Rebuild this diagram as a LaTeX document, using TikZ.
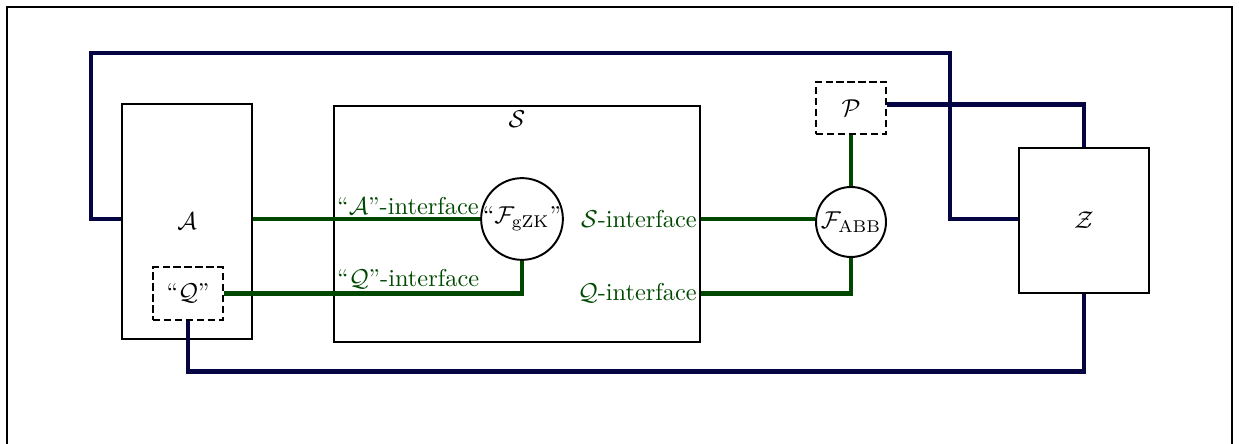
\documentclass[tikz,border=0pt]{standalone}
\usetikzlibrary{positioning}
\definecolor{ifgreen}{RGB}{0,72,0}
\definecolor{envnavy}{RGB}{5,5,68}

\begin{document}
\begin{tikzpicture}[
    x=0.41pt, y=-0.41pt,
    party/.style={draw, thick, minimum width=53.3pt},
    helper/.style={draw, thick, dash pattern=on 3pt off 1.5pt, minimum width=28.7pt, minimum height=21.5pt},
    func/.style={draw, thick, circle, inner sep=0pt},
    iface/.style={ifgreen, line width=1.8pt},
    envline/.style={envnavy, line width=1.8pt},
    ilabel/.style={text=ifgreen, inner sep=1.5pt}
  ]
    \useasboundingbox (0,0) rectangle (1239,444);
    \draw[line width=0.6pt] (7,7) rectangle (1232,470);

    % parties and simulator
    \node[party, minimum height=96.4pt] (A) at (187,221.5) {$\mathcal{A}$};
    \node[helper] (Q) at (188,293.5) {``$\mathcal{Q}$''};
    \node[draw, thick, minimum width=150pt, minimum height=96.8pt] (S) at (517,224) {};
    \node[anchor=north, inner sep=2pt] at (S.north) {$\mathcal{S}$};
    \node[party, minimum height=59.5pt] (Z) at (1084,220.5) {$\mathcal{Z}$};

    % functionalities
    \node[func, minimum size=31.5pt] (gzk) at (522,219) {``$\mathcal{F}_{\mathrm{gZK}}$''};
    \node[func, minimum size=28.7pt] (abb) at (851,222) {$\mathcal{F}_{\mathrm{ABB}}$};
    \node[helper] (P) at (851,108) {$\mathcal{P}$};

    % interfaces
    \draw[iface] (gzk.west -| A.east) -- (gzk.west);
    \node[ilabel, anchor=south west] at (gzk.west -| S.west) {``$\mathcal{A}$''-interface};
    \draw[iface] (Q.east) -- (Q.east -| gzk.south) -- (gzk.south);
    \node[ilabel, anchor=south west] at (Q.east -| S.west) {``$\mathcal{Q}$''-interface};
    \draw[iface] (gzk.west -| S.east) -- (gzk.west -| abb.west);
    \node[ilabel, anchor=east] at (gzk.west -| S.east) {$\mathcal{S}$-interface};
    \draw[iface] (Q.east -| S.east) -- (Q.east -| abb.south) -- (abb.south);
    \node[ilabel, anchor=east] at (Q.east -| S.east) {$\mathcal{Q}$-interface};
    \draw[iface] (P.south) -- (abb.north);

    % environment connections
    \coordinate (topleft) at (91,53);
    \coordinate (topright) at (950,53);
    \draw[envline] (gzk.west -| A.west) -| (topleft) -- (topright) |- (gzk.west -| Z.west);
    \draw[envline] ([yshift=1.5pt]P.east) -| (Z.north);
    \draw[envline] (Q.south) -- ++(0,51) -| (Z.south);
  \end{tikzpicture}
\end{document}
